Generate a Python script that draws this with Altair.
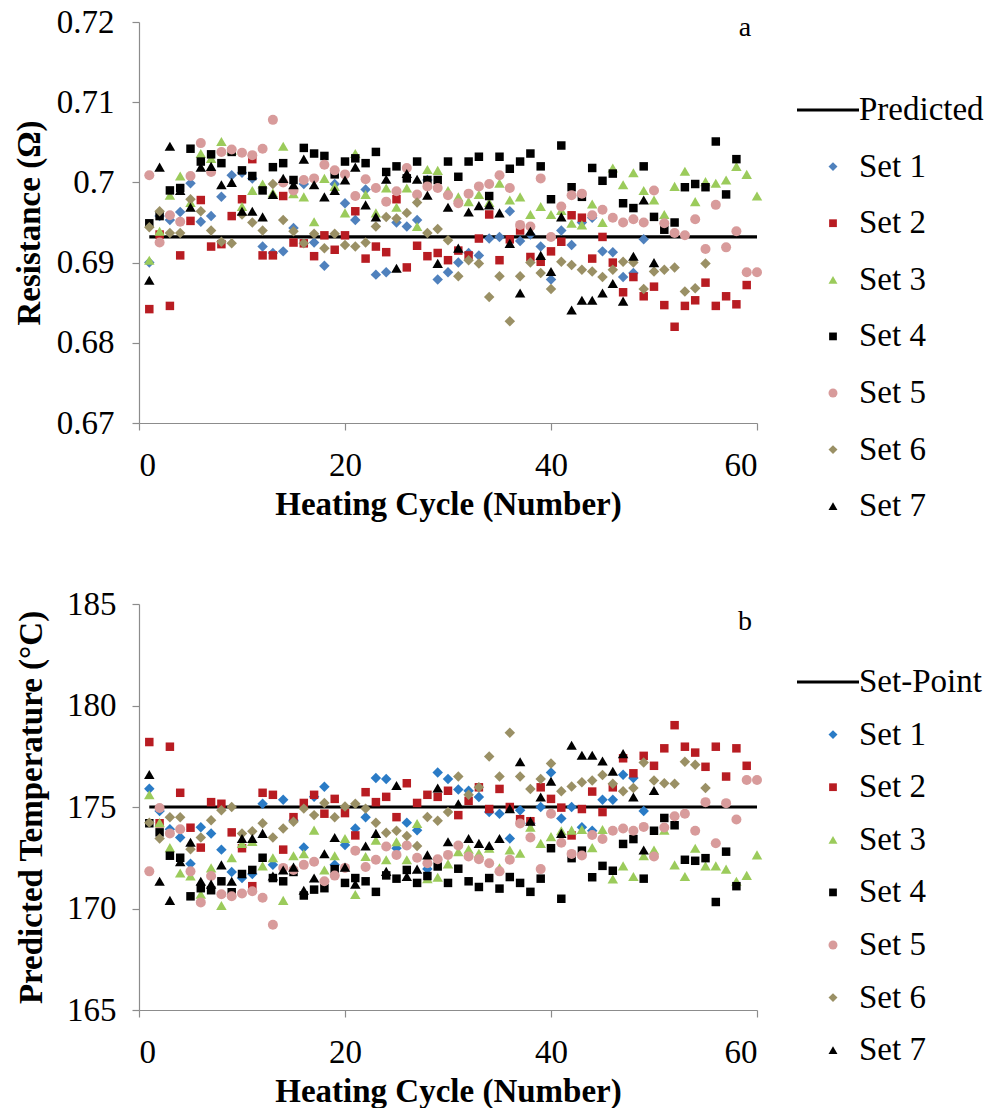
import altair as alt
import pandas as pd

CYCLES = list(range(1, 61))
N = None
SETS = ["Set 1", "Set 2", "Set 3", "Set 4", "Set 5", "Set 6", "Set 7"]

# ---------------- panel a : resistance (ohm) ----------------
R1 = [0.6900, 0.6958, 0.6953, 0.6963, 0.6999, 0.6951, 0.6958, 0.6982, 0.7009, 0.7012,
      0.7005, 0.6920, 0.6912, 0.6914, 0.6943, 0.6998, 0.6925, 0.6896, 0.6998, 0.6974,
      0.6953, 0.6991, 0.6885, 0.6888, 0.6950, 0.6945, 0.6953, 0.7003, 0.6879, 0.6888,
      0.6900, 0.6912, 0.6909, 0.6930, 0.6932, 0.6964, 0.6927, 0.6935, 0.6920, 0.6879,
      0.6940, 0.6922, 0.6950, 0.6956, 0.6914, 0.6913, 0.6882, 0.6887, 0.6929, N,
      N, N, N, N, N, N, N, N, N, N]
R2 = [0.6842, 0.6935, 0.6846, 0.6909, 0.6952, 0.6978, 0.6920, 0.6923, 0.6958, 0.6979,
      0.7029, 0.6909, 0.6909, 0.6983, 0.6925, 0.6924, 0.6908, 0.6934, 0.6916, 0.6934,
      0.6964, 0.6905, 0.6920, 0.6913, 0.6979, 0.6894, 0.6921, 0.6908, 0.6912, 0.6903,
      0.6915, 0.6909, 0.6930, 0.6960, 0.6903, 0.6929, 0.6940, 0.6907, 0.6901, 0.6914,
      0.6926, 0.6959, 0.6956, 0.6905, 0.6932, 0.6900, 0.6863, 0.6882, 0.6858, 0.6870,
      0.6847, 0.6820, 0.6846, 0.6853, 0.6875, 0.6846, 0.6858, 0.6848, 0.6872, N]
R3 = [0.6903, 0.6939, 0.6984, 0.7008, 0.6975, 0.7036, 0.7030, 0.7051, 0.7040, 0.6970,
      0.6990, 0.6998, 0.6987, 0.7045, 0.6986, 0.6982, 0.6951, 0.7005, 0.6995, 0.6962,
      0.7036, 0.6985, 0.6962, 0.6993, 0.6969, 0.6993, 0.6945, 0.7016, 0.7015, 0.6990,
      0.6982, 0.6976, 0.6985, 0.6975, 0.6999, 0.6978, 0.6982, 0.6960, 0.6970, 0.6960,
      0.6965, 0.6949, 0.6947, 0.6973, 0.6950, 0.7018, 0.6997, 0.7012, 0.6990, 0.6978,
      0.6960, 0.6995, 0.7014, 0.6976, 0.7001, 0.6999, 0.7003, 0.7020, 0.7010, 0.6983]
R4 = [0.6949, 0.6958, 0.6990, 0.6993, 0.7042, 0.7026, 0.7035, 0.7024, 0.7038, 0.7015,
      0.7008, 0.6990, 0.7019, 0.7024, 0.7003, 0.7043, 0.7036, 0.7033, 0.7010, 0.7026,
      0.7030, 0.7024, 0.7038, 0.7013, 0.7020, 0.7005, 0.7026, 0.7003, 0.7003, 0.7026,
      0.7007, 0.7026, 0.7032, 0.6983, 0.7032, 0.7017, 0.7026, 0.7036, 0.7020, 0.6979,
      0.7046, 0.6994, 0.6982, 0.7018, 0.7002, 0.7011, 0.6974, 0.6968, 0.7020, 0.6957,
      0.6941, 0.6950, 0.6994, 0.6998, 0.6994, 0.7051, 0.6985, 0.7029, N, N]
R5 = [0.7009, 0.6925, 0.6959, 0.6951, 0.7008, 0.7049, 0.7013, 0.7038, 0.7041, 0.7037,
      0.7034, 0.7042, 0.7078, 0.7000, 0.6990, 0.7003, 0.7005, 0.7022, 0.7015, 0.7010,
      0.6983, 0.7004, 0.6993, 0.6976, 0.6989, 0.7018, 0.6985, 0.6995, 0.6993, 0.6984,
      0.6974, 0.6986, 0.6995, 0.6998, 0.7009, 0.6993, 0.6947, 0.6945, 0.7005, 0.6932,
      0.6970, 0.6984, 0.6986, 0.6959, 0.6966, 0.6956, 0.6950, 0.6954, 0.6950, 0.6990,
      0.6949, 0.6937, 0.6934, 0.6954, 0.6917, 0.6972, 0.6919, 0.6939, 0.6888, 0.6888]
R6 = [0.6944, 0.6964, 0.6937, 0.6937, 0.6979, 0.6964, 0.6940, 0.6926, 0.6924, 0.6960,
      0.6950, 0.6940, 0.6998, 0.6953, 0.6939, 0.6924, 0.6936, 0.6918, 0.6936, 0.6922,
      0.6920, 0.6925, 0.6945, 0.6957, 0.6955, 0.6962, 0.6975, 0.6937, 0.6942, 0.6928,
      0.6883, 0.6903, 0.6899, 0.6857, 0.6883, 0.6827, 0.6883, 0.6900, 0.6887, 0.6867,
      0.6901, 0.6897, 0.6891, 0.6889, 0.6882, 0.6891, 0.6901, 0.6900, 0.6867, 0.6889,
      0.6891, 0.6894, 0.6864, 0.6868, 0.6899, N, N, N, N, N]
R7 = [0.6878, 0.7019, 0.7045, 0.6990, 0.6969, 0.7019, 0.7020, 0.6997, 0.7000, 0.6964,
      0.6964, 0.6957, 0.6985, 0.7005, 0.6997, 0.7029, 0.6997, 0.6982, 0.6990, 0.7003,
      0.7019, 0.6972, 0.6957, 0.7004, 0.6893, 0.7011, 0.7004, 0.6984, 0.6899, 0.6969,
      0.6918, 0.6963, 0.6971, 0.6972, 0.6962, 0.6924, 0.6862, 0.6939, 0.6909, 0.6889,
      0.6957, 0.6841, 0.6853, 0.6853, 0.6862, 0.6874, 0.6852, 0.6908, 0.6978, 0.6900,
      N, N, N, N, N, N, N, N, N, N]
PREDICTED = 0.6932

# ---------------- panel b : predicted temperature (deg C) ----------------
T1 = [175.9, 174.8, 173.9, 173.5, 172.2, 174.0, 173.7, 172.9, 171.8, 171.5,
      171.7, 175.16, 172.15, 175.36, 174.35, 173.0, 175.5, 176.0, 172.15, 173.13,
      173.94, 174.5, 176.43, 176.38, 172.97, 174.23, 173.86, 171.94, 176.7, 176.38,
      175.86, 175.8, 175.49, 174.75, 174.67, 173.45, 174.84, 174.2, 175.0, 176.7,
      174.43, 175.0, 174.0, 173.83, 175.36, 175.36, 176.59, 176.43, 174.8, N,
      N, N, N, N, N, N, N, N, N, N]
T2 = [178.2, 174.2, 177.97, 175.7, 173.98, 173.0, 175.24, 175.16, 173.75, 172.97,
      171.1, 175.7, 175.6, 172.9, 174.5, 175.2, 175.6, 174.67, 175.4, 174.7,
      173.6, 175.73, 175.24, 175.5, 174.5, 176.17, 175.2, 175.6, 175.5, 175.8,
      174.6, 175.3, 175.97, 174.9, 175.89, 175.0, 174.4, 174.3, 175.97, 175.4,
      174.97, 173.6, 174.9, 175.76, 174.75, 175.97, 177.4, 176.66, 177.52, 177.03,
      177.89, 179.03, 177.97, 177.68, 176.98, 177.97, 176.5, 177.89, 177.03, N]
T3 = [175.6, 174.23, 173.0, 171.75, 171.6, 170.7, 172.0, 170.15, 172.5, 173.2,
      173.3, 172.1, 172.5, 170.4, 172.6, 172.7, 173.86, 171.9, 172.6, 173.45,
      170.69, 172.56, 173.37, 172.4, 173.29, 172.4, 174.19, 171.47, 171.54, 172.2,
      172.8, 172.92, 172.72, 172.97, 172.0, 172.88, 172.72, 174.0, 173.21, 173.54,
      173.83, 173.86, 173.89, 173.0, 173.89, 171.45, 172.1, 171.58, 172.6, 172.88,
      173.86, 172.15, 171.58, 172.97, 172.1, 172.1, 171.94, 171.34, 171.63, 172.64]
T4 = [174.2, 173.75, 172.6, 172.5, 170.6, 171.0, 170.9, 171.34, 170.8, 171.7,
      171.9, 172.5, 171.5, 171.34, 171.8, 170.64, 170.93, 171.0, 171.94, 171.26,
      171.5, 171.34, 170.82, 171.63, 171.47, 171.9, 171.26, 171.6, 172.07, 171.26,
      171.96, 171.34, 171.06, 171.5, 170.98, 171.55, 171.26, 170.82, 171.47, 172.97,
      170.48, 172.48, 172.85, 171.54, 172.1, 171.86, 173.18, 173.42, 171.47, 173.83,
      174.46, 174.1, 172.4, 172.35, 172.48, 170.32, 172.8, 171.1, N, N]
T5 = [171.83, 174.95, 173.7, 173.9, 171.83, 170.3, 171.6, 170.7, 170.6, 170.74,
      170.85, 170.53, 169.2, 172.0, 171.9, 172.15, 172.3, 171.34, 171.62, 172.0,
      172.85, 172.04, 172.4, 173.05, 172.64, 173.1, 172.5, 172.23, 172.43, 172.64,
      173.1, 172.56, 172.43, 172.23, 171.83, 172.4, 174.19, 173.5, 171.94, 174.67,
      173.24, 172.69, 172.61, 173.62, 173.42, 173.83, 173.94, 173.83, 174.02, 172.56,
      173.99, 174.54, 174.67, 173.83, 175.24, 173.21, 175.19, 174.38, 176.33, 176.33]
T6 = [174.23, 173.45, 174.5, 174.5, 172.92, 173.5, 174.35, 174.84, 175.0, 173.7,
      173.8, 174.2, 173.5, 173.94, 174.27, 174.92, 174.6, 175.2, 174.5, 175.03,
      175.16, 174.92, 174.22, 173.73, 173.83, 173.57, 173.08, 174.51, 174.32, 174.75,
      176.5, 175.6, 175.97, 177.49, 176.5, 178.66, 176.5, 175.89, 176.38, 177.14,
      175.78, 176.01, 176.22, 176.3, 176.58, 176.14, 175.78, 175.94, 177.19, 176.3,
      176.17, 176.14, 177.23, 177.08, 175.94, N, N, N, N, N]
T7 = [176.6, 171.34, 170.4, 172.3, 173.26, 171.34, 171.2, 172.15, 171.34, 173.45,
      173.45, 173.7, 171.6, 171.9, 172.04, 170.9, 171.5, 172.7, 173.5, 172.04,
      171.2, 173.08, 173.7, 171.83, 176.06, 171.58, 171.94, 172.64, 175.94, 173.29,
      175.16, 173.45, 173.21, 173.1, 173.45, 174.92, 177.23, 174.3, 175.49, 176.27,
      173.7, 178.04, 177.55, 177.55, 177.27, 176.76, 177.63, 175.49, 172.88, 175.81,
      N, N, N, N, N, N, N, N, N, N]
SET_POINT = 175.0

FONT = "Liberation Serif"
FS = 33
SHAPES = ["diamond", "square", "triangle-up", "square", "circle", "diamond", "triangle-up"]
SIZES = [110, 72, 110, 72, 100, 110, 110]
COLORS_A = ["#4F81BD", "#B81C22", "#9BCB5B", "#000000", "#D89B9B", "#9A9065", "#000000"]
COLORS_B = ["#2A7BC6", "#B81C22", "#9BCB5B", "#000000", "#D89B9B", "#9A9065", "#000000"]


def long_table(series_list):
    rows = []
    for name, vals in zip(SETS, series_list):
        for c, v in zip(CYCLES, vals):
            if v is not None:
                rows.append({"cycle": c, "value": v, "series": name})
    return pd.DataFrame(rows)


def panel(series_list, colors, ref_label, ref_value, ydom, yvals, yfmt, ytitle,
          letter, letter_y, w, h, leg_top, leg_step, leg_x, ylabpad, ytitlepad):
    df = long_table(series_list)
    xenc = alt.X("cycle:Q", scale=alt.Scale(domain=[0, 60], nice=False, zero=False),
                 axis=alt.Axis(values=[0, 20, 40, 60], title="Heating Cycle (Number)",
                               titlePadding=6, labelPadding=19))
    yenc = alt.Y("value:Q", scale=alt.Scale(domain=ydom, nice=False, zero=False),
                 axis=alt.Axis(values=yvals, format=yfmt, title=ytitle,
                               titlePadding=ytitlepad, labelPadding=ylabpad))
    ref_df = pd.DataFrame({"cycle": [1, 60], "value": [ref_value, ref_value]})
    line = alt.Chart(ref_df).mark_line(color="black", strokeWidth=3.2).encode(x=xenc, y=yenc)
    layers = [line]
    for name, shp, sz, col in zip(SETS, SHAPES, SIZES, colors):
        layers.append(
            alt.Chart(df[df.series == name]).mark_point(
                filled=True, shape=shp, size=sz, color=col, opacity=1, strokeWidth=0
            ).encode(x="cycle:Q", y="value:Q")
        )
    lab = alt.Chart(pd.DataFrame({"t": [letter]})).mark_text(
        font=FONT, fontSize=28, align="center", baseline="middle", color="black"
    ).encode(x=alt.value(w - 12), y=alt.value(letter_y), text="t:N")
    layers.append(lab)
    plot = alt.layer(*layers).properties(width=w, height=h)

    # legend panel
    entries = [ref_label] + SETS
    ldf = pd.DataFrame({"label": entries, "idx": list(range(len(entries)))})
    ly = alt.Y("idx:Q", scale=alt.Scale(domain=[0, 7], range=[leg_top, leg_top + 7 * leg_step]),
               axis=None)
    txt = alt.Chart(ldf).mark_text(font=FONT, fontSize=FS, align="left", baseline="middle",
                                   color="black").encode(x=alt.value(leg_x + 62), y=ly, text="label:N")
    lline = alt.Chart(ldf[ldf.idx == 0]).mark_rule(color="black", strokeWidth=3).encode(
        x=alt.value(leg_x), x2=alt.value(leg_x + 62), y=ly)
    llayers = [lline, txt]
    for i, (shp, col) in enumerate(zip(SHAPES, colors)):
        llayers.append(
            alt.Chart(ldf[ldf.idx == i + 1]).mark_point(
                filled=True, shape=shp, size=60 if shp == "square" else 80, color=col,
                opacity=1, strokeWidth=0
            ).encode(x=alt.value(leg_x + 36), y="idx:Q")
        )
    leg = alt.layer(*llayers).properties(width=180, height=h)
    return alt.hconcat(plot, leg, spacing=0)


top = panel([R1, R2, R3, R4, R5, R6, R7], COLORS_A, "Predicted", PREDICTED,
            [0.67, 0.72], [0.67, 0.68, 0.69, 0.70, 0.71, 0.72], ".2~f",
            "Resistance (Ω)", "a", 6, 618, 401, 88, 56.6, 33, 18, 10)
bottom = panel([T1, T2, T3, T4, T5, T6, T7], COLORS_B, "Set-Point", SET_POINT,
               [165, 185], [165, 170, 175, 180, 185], "d",
               "Predicted Temperature (°C)", "b", 18, 618, 406, 78, 52.6, 33, 16, 18)

chart = alt.vconcat(top, bottom, spacing=64).properties(
    padding={"left": 13, "top": 6, "right": 0, "bottom": 0}
).configure_view(stroke=None).configure_axis(
    domainColor="#8C8C8C", tickColor="#8C8C8C", tickSize=7, grid=False,
    labelFont=FONT, labelFontSize=FS, labelColor="black",
    titleFont=FONT, titleFontSize=FS, titleFontWeight="bold", titleColor="black",
    domainWidth=1.2, tickWidth=1.2
)

chart.save("out.html", embed_options={"renderer": "svg", "actions": False})
